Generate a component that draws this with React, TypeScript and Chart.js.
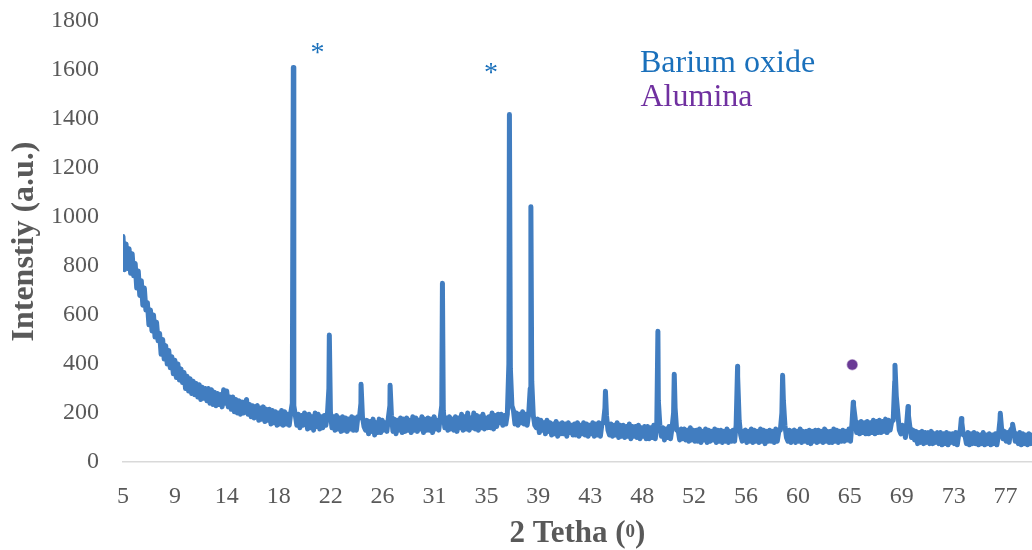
import React, { useEffect, useRef } from 'react';
import { Chart, registerables } from 'chart.js';

Chart.register(...registerables);

// Scan grid: 2θ from 5° in 0.125° steps (one row of 8 readings per degree)
const scanStart = 5;
const scanStep = 0.125;
const baselineIntensity = [
  920, 785, 890, 790, 870, 770, 850, 760, // 5
  810, 710, 780, 680, 740, 640, 710, 620, // 6
  650, 560, 620, 535, 600, 510, 570, 495, // 7
  525, 440, 500, 420, 475, 400, 455, 385, // 8
  430, 360, 415, 345, 400, 335, 380, 325, // 9
  365, 300, 350, 290, 340, 280, 330, 275, // 10
  320, 265, 315, 255, 305, 260, 300, 250, // 11
  300, 240, 295, 235, 285, 230, 280, 235, // 12
  275, 225, 295, 240, 290, 225, 265, 215, // 13
  265, 205, 255, 200, 250, 195, 245, 200, // 14
  240, 255, 195, 235, 185, 230, 180, 225, // 15
  230, 170, 220, 175, 225, 165, 215, 170, // 16
  215, 155, 210, 160, 205, 150, 200, 155, // 17
  210, 150, 205, 155, 195, 150, 200, 240, // 18
  230, 190, 150, 195, 140, 190, 150, 200, // 19
  190, 135, 195, 140, 185, 130, 200, 145, // 20
  195, 135, 185, 140, 190, 150, 190, 300, // 21
  205, 140, 185, 130, 190, 135, 180, 125, // 22
  185, 130, 180, 125, 175, 135, 185, 130, // 23
  180, 130, 185, 180, 240, 185, 145, 130, // 24
  170, 115, 165, 125, 175, 110, 160, 120, // 25
  175, 120, 170, 130, 160, 125, 180, 230, // 26
  190, 125, 175, 115, 170, 130, 180, 120, // 27
  175, 125, 180, 130, 170, 120, 185, 130, // 28
  180, 125, 170, 135, 185, 120, 175, 130, // 29
  180, 130, 175, 120, 185, 135, 170, 130, // 30
  180, 230, 210, 140, 180, 130, 185, 135, // 31
  175, 130, 185, 125, 180, 140, 195, 130, // 32
  185, 135, 200, 130, 180, 140, 200, 135, // 33
  190, 130, 185, 140, 195, 135, 180, 140, // 34
  185, 140, 200, 135, 190, 145, 195, 160, // 35
  195, 150, 190, 155, 195, 400, 380, 230, // 36
  210, 155, 200, 150, 195, 160, 205, 155, // 37
  195, 150, 195, 300, 330, 190, 150, 140, // 38
  175, 120, 170, 130, 160, 115, 170, 125, // 39
  160, 110, 155, 115, 165, 105, 155, 115, // 40
  160, 115, 155, 105, 160, 120, 150, 110, // 41
  155, 110, 160, 105, 150, 115, 160, 110, // 42
  155, 105, 150, 115, 160, 105, 155, 110, // 43
  160, 105, 155, 160, 220, 190, 130, 110, // 44
  155, 105, 150, 110, 160, 100, 150, 105, // 45
  150, 100, 145, 105, 155, 95, 145, 105,  // 46
  145, 100, 150, 95, 140, 105, 145, 95,   // 47
  145, 95, 140, 100, 150, 95, 160, 250,   // 48
  150, 105, 140, 90, 135, 100, 145, 95,   // 49
  140, 200, 220, 130, 130, 90, 135, 95,   // 50
  135, 90, 130, 85, 140, 90, 130, 85,     // 51
  130, 85, 135, 80, 125, 90, 135, 80,     // 52
  130, 85, 125, 90, 135, 80, 130, 85,     // 53
  130, 80, 125, 85, 135, 80, 125, 85,     // 54
  130, 85, 150, 350, 170, 110, 85, 125,   // 55
  130, 80, 125, 85, 135, 80, 130, 85,     // 56
  125, 80, 135, 85, 130, 75, 125, 85,     // 57
  130, 85, 125, 80, 135, 85, 125, 130,    // 58
  200, 250, 150, 100, 85, 130, 80, 125,   // 59
  130, 80, 125, 85, 135, 80, 125, 85,     // 60
  125, 80, 130, 75, 125, 85, 130, 80,     // 61
  130, 85, 125, 80, 135, 85, 125, 80,     // 62
  125, 80, 135, 85, 130, 80, 125, 85,     // 63
  130, 85, 125, 90, 135, 85, 160, 230,    // 64
  180, 120, 160, 115, 165, 120, 160, 115, // 65
  165, 115, 160, 120, 170, 115, 165, 120, // 66
  170, 120, 165, 125, 175, 120, 170, 130, // 67
  165, 170, 330, 270, 200, 130, 115, 150, // 68
  140, 100, 170, 190, 140, 100, 130, 90,  // 69
  125, 75, 120, 80, 125, 75, 120, 80,     // 70
  120, 75, 125, 75, 115, 80, 120, 75,     // 71
  120, 70, 115, 75, 120, 70, 115, 80,     // 72
  115, 75, 120, 70, 115, 130, 160, 110,   // 73
  110, 75, 120, 70, 115, 75, 120, 75,     // 74
  115, 70, 110, 75, 120, 70, 110, 75,     // 75
  115, 70, 110, 75, 115, 70, 110, 170,    // 76
  140, 95, 125, 85, 120, 80, 130, 140,    // 77
  130, 85, 115, 75, 120, 70, 115, 75,     // 78
  110, 70, 115, 75, 110, 70, 105, 75,     // 79
];

// Peak apexes
const peakAngles = [18.96, 21.91, 24.51, 26.89, 31.18, 36.67, 38.43, 44.54, 48.84, 50.18, 55.37, 59.06, 64.85, 68.27, 69.34, 73.71, 76.9, 77.91];
const peakIntensities = [1610, 518, 317, 313, 730, 1418, 1042, 289, 534, 358, 391, 354, 244, 395, 227, 178, 199, 154];

// Alumina marker
const aluminaAngles = [64.77];
const aluminaIntensities = [397];

const xTickLabels = ['5', '9', '14', '18', '22', '26', '31', '35', '39', '43', '48', '52', '56', '60', '65', '69', '73', '77'];
const xLabelStep = 4.255;
const yMax = 1800;
const yStep = 200;

const GREY = '#595959';
const LINE_BLUE = '#417DC0';
const TEXT_BLUE = '#1A70BB';
const PURPLE = '#7030A0';
const FONT = '"Liberation Serif", "Times New Roman", serif';

const textPlugin = {
  id: 'textPlugin',
  afterDraw(chart: any) {
    const ctx = chart.ctx as CanvasRenderingContext2D;
    const area = chart.chartArea;
    ctx.save();
    // Y title
    ctx.fillStyle = GREY;
    ctx.font = `bold 32px ${FONT}`;
    ctx.textAlign = 'center';
    ctx.textBaseline = 'alphabetic';
    ctx.save();
    ctx.translate(33, (area.top + area.bottom) / 2);
    ctx.rotate(-Math.PI / 2);
    ctx.fillText('Intenstiy (a.u.)', 0, 0);
    ctx.restore();

    // X title with superscript
    const main1 = '2 Tetha (';
    const sup = '0';
    const main2 = ')';
    ctx.textAlign = 'left';
    ctx.font = `bold 31px ${FONT}`;
    const w1 = ctx.measureText(main1).width;
    const w3 = ctx.measureText(main2).width;
    ctx.font = `bold 19px ${FONT}`;
    const w2 = ctx.measureText(sup).width;
    const total = w1 + w2 + w3;
    let x = (area.left + area.right) / 2 - total / 2;
    const base = 541.5;
    ctx.font = `bold 31px ${FONT}`;
    ctx.fillText(main1, x, base);
    x += w1;
    ctx.font = `bold 19px ${FONT}`;
    ctx.fillText(sup, x, base - 5);
    x += w2;
    ctx.font = `bold 31px ${FONT}`;
    ctx.fillText(main2, x, base);

    // Asterisks
    ctx.fillStyle = TEXT_BLUE;
    ctx.font = `28px ${FONT}`;
    ctx.textAlign = 'center';
    const m = ctx.measureText('*');
    const off = (m.actualBoundingBoxAscent - m.actualBoundingBoxDescent) / 2;
    ctx.fillText('*', 317.5, 48 + off);
    ctx.fillText('*', 491, 68 + off);

    // Legend-like labels
    ctx.textAlign = 'left';
    ctx.font = `32px ${FONT}`;
    ctx.fillStyle = TEXT_BLUE;
    ctx.fillText('Barium oxide', 640, 71.5);
    ctx.fillStyle = PURPLE;
    ctx.fillText('Alumina', 640.5, 106);
    ctx.restore();
  },
};

export default function App() {
  const canvasRef = useRef<HTMLCanvasElement | null>(null);

  useEffect(() => {
    const canvas = canvasRef.current;
    if (!canvas) return;
    const scanPoints = baselineIntensity.map((y, i) => ({ x: scanStart + i * scanStep, y }));
    const peakPoints = peakAngles.map((x, i) => ({ x, y: peakIntensities[i] }));
    const series = [...scanPoints, ...peakPoints].sort((a, b) => a.x - b.x);
    const alumina = aluminaAngles.map((x, i) => ({ x, y: aluminaIntensities[i] }));

    const chart = new Chart(canvas, {
      type: 'line',
      data: {
        datasets: [
          {
            data: series,
            borderColor: LINE_BLUE,
            backgroundColor: LINE_BLUE,
            borderWidth: 5,
            pointRadius: 0,
            tension: 0,
            borderJoinStyle: 'round',
            borderCapStyle: 'round',
            order: 1,
          },
          {
            data: alumina,
            showLine: false,
            pointRadius: 5,
            pointBackgroundColor: '#6A3A95',
            pointBorderColor: 'rgba(106,58,149,0.45)',
            pointBorderWidth: 1.5,
            order: 0,
          },
        ],
      },
      options: {
        animation: false,
        responsive: false,
        events: [],
        layout: { autoPadding: false, padding: { top: 21, left: 0, right: 0, bottom: 0 } },
        plugins: { legend: { display: false }, tooltip: { enabled: false } },
        scales: {
          x: {
            type: 'linear',
            min: 5,
            max: 79.5,
            grid: { display: false, drawTicks: false },
            border: { display: true, color: '#D9D9D9', width: 1.5 },
            afterBuildTicks: (scale: any) => {
              scale.ticks = xTickLabels.map((_, i) => ({ value: scanStart + i * xLabelStep }));
            },
            afterFit: (scale: any) => {
              scale.height = 88;
              scale.paddingLeft = 0;
              scale.paddingRight = 0;
            },
            ticks: {
              autoSkip: false,
              maxRotation: 0,
              minRotation: 0,
              color: GREY,
              padding: 20,
              font: { family: FONT, size: 24 },
              callback: (_v: any, i: number) => xTickLabels[i],
            },
          },
          y: {
            min: 0,
            max: yMax,
            grid: { display: false, drawTicks: false },
            border: { display: false },
            afterFit: (scale: any) => {
              scale.width = 123;
              scale.paddingTop = 0;
              scale.paddingBottom = 0;
            },
            ticks: {
              stepSize: yStep,
              color: GREY,
              padding: 24,
              font: { family: FONT, size: 24 },
              callback: (v: any) => String(v),
            },
          },
        },
      },
      plugins: [textPlugin],
    } as any);
    return () => chart.destroy();
  }, []);

  return (
    <div style={{ position: 'absolute', left: 0, top: 0, width: 1032, height: 550, background: '#fff' }}>
      <canvas ref={canvasRef} width={1032} height={550} style={{ width: 1032, height: 550, display: 'block' }} />
    </div>
  );
}
